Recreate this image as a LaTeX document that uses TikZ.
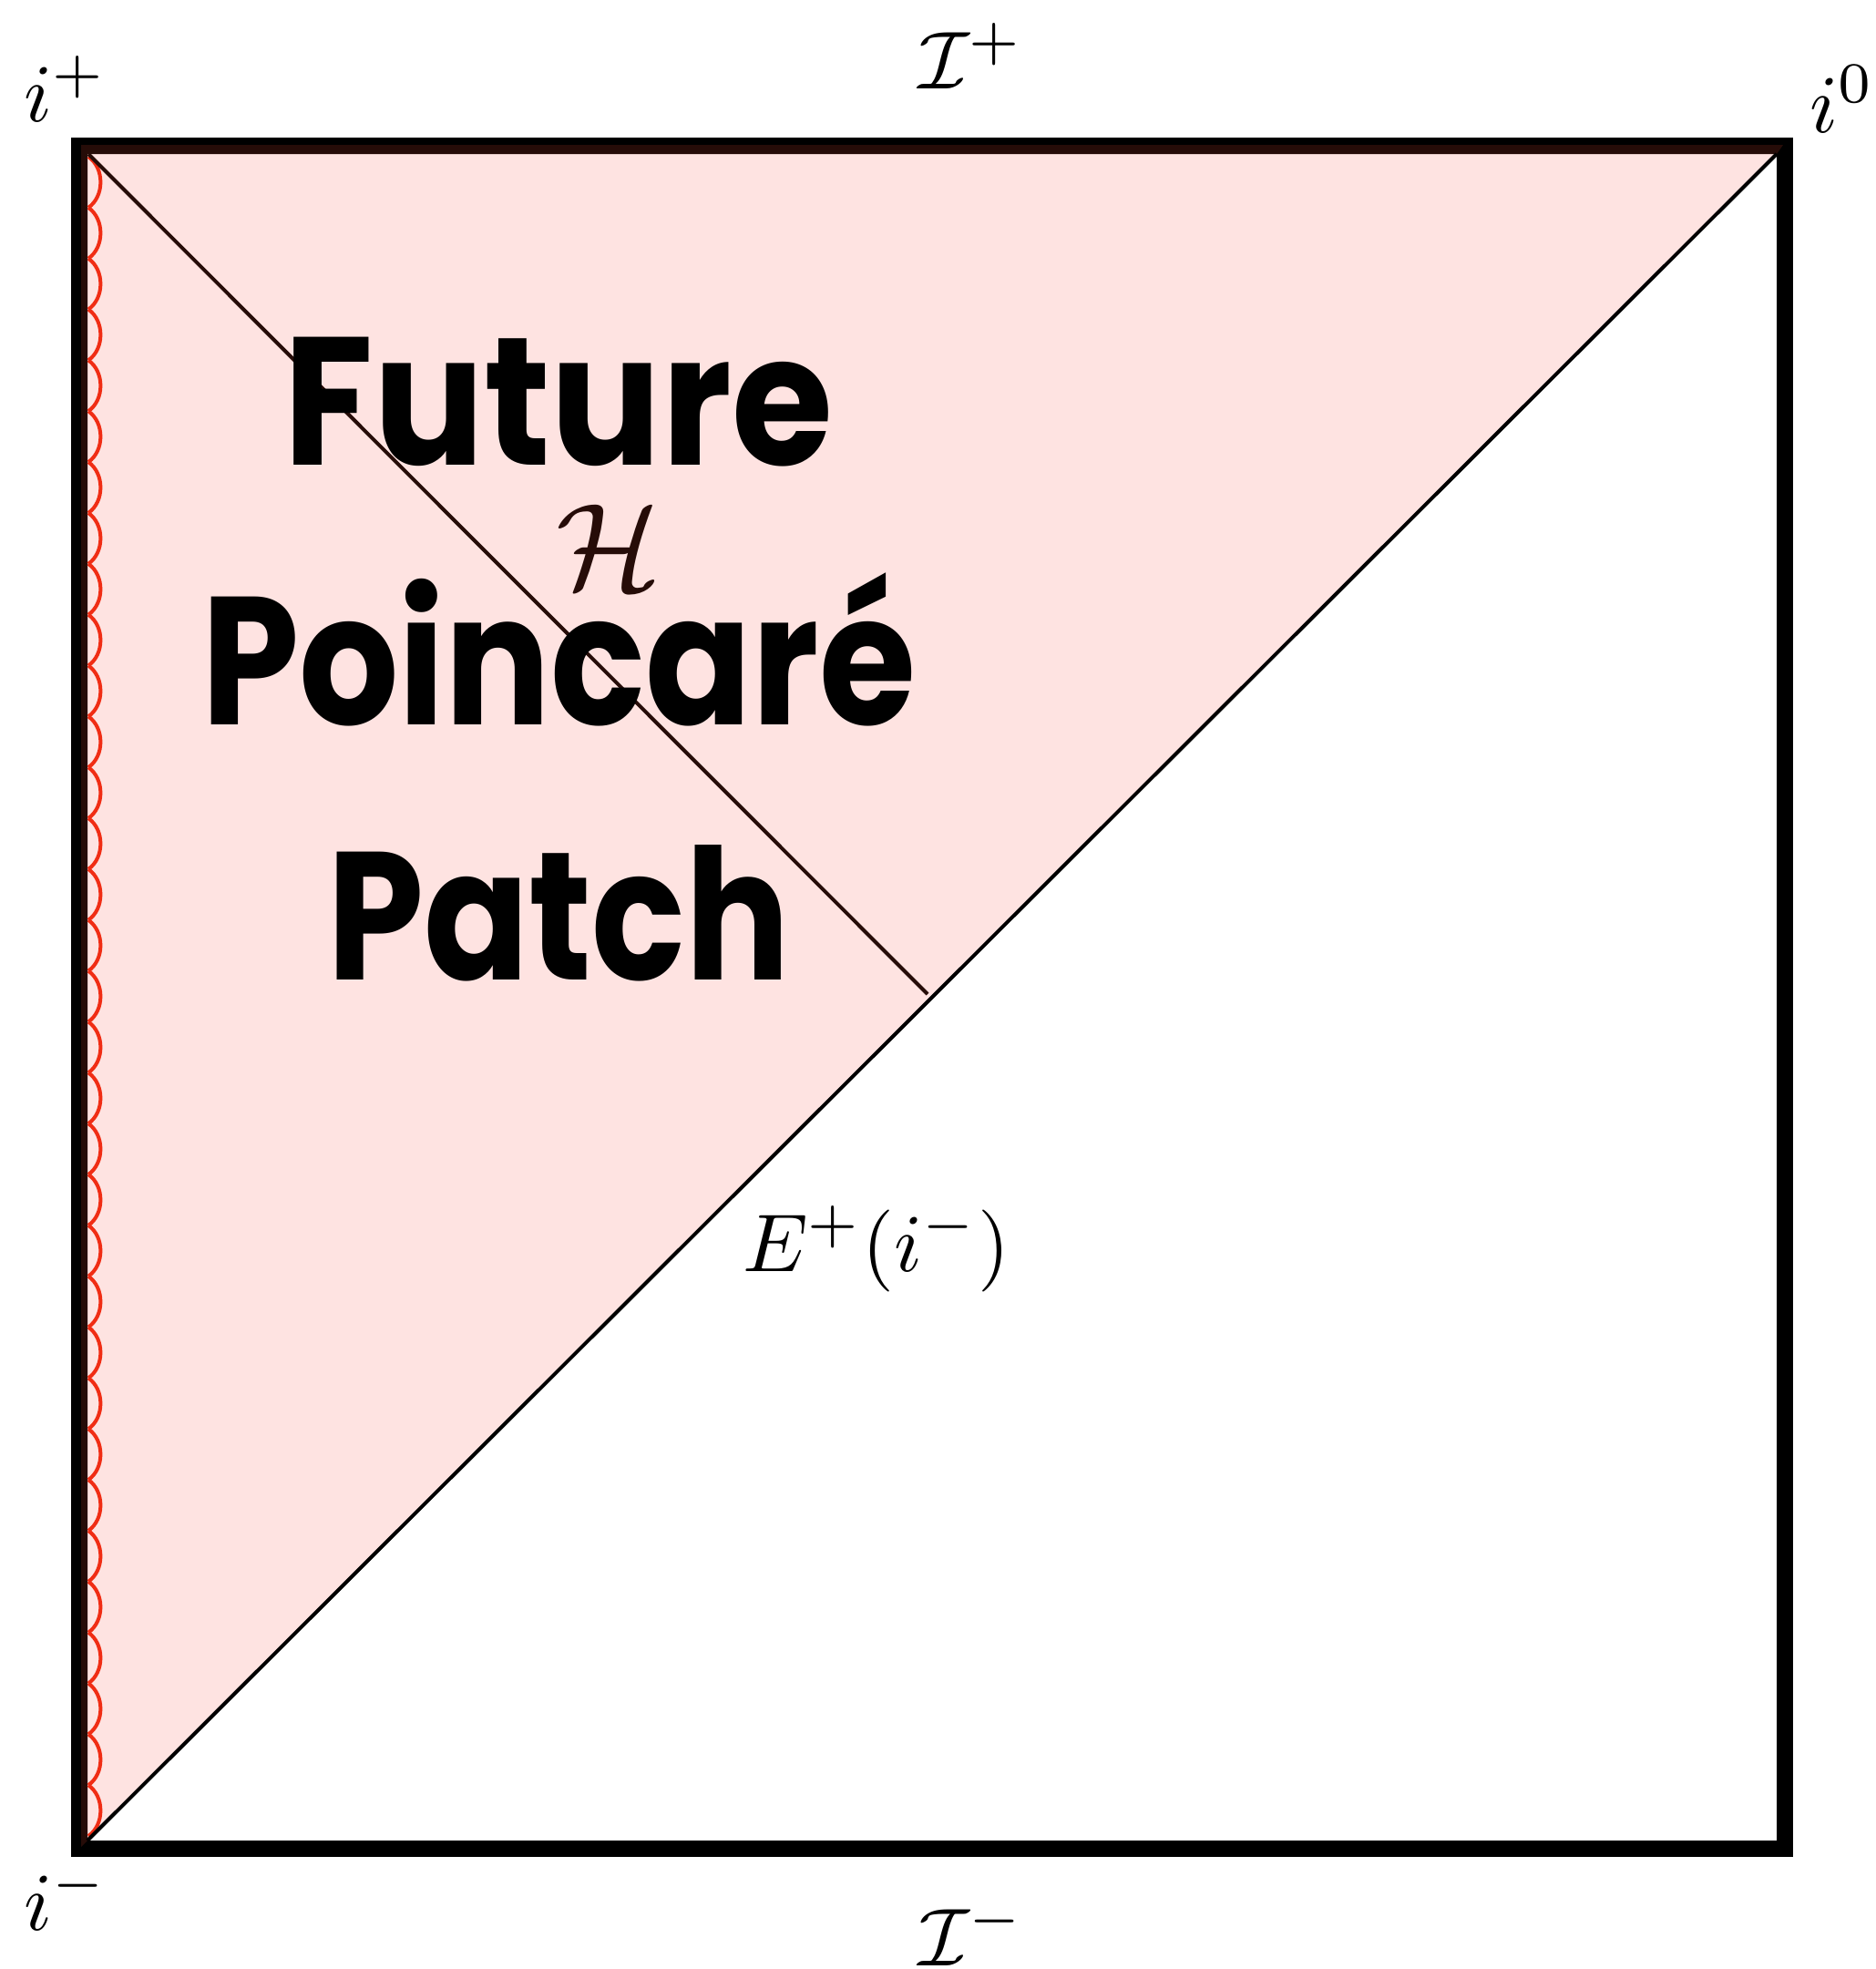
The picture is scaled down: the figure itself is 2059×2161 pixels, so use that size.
\documentclass[tikz,border=0pt]{standalone}
\usepackage{fontspec}
\usepackage{graphicx}
\newfontfamily\comicfont{Poppins}
\definecolor{patchpink}{RGB}{254,227,225}
\definecolor{hbrown}{RGB}{38,12,8}
\definecolor{wavered}{RGB}{240,45,20}
\newcommand{\bigmath}[1]{\scalebox{9}{$#1$}}
\tikzset{
  lbl/.style={inner sep=0pt},
  bigword/.style={inner sep=0pt, anchor=base, font=\comicfont\bfseries\fontsize{200}{220}\selectfont},
  nullline/.style={line width=4pt}
}
\begin{document}
\begin{tikzpicture}[x=1pt,y=-1pt]
\useasboundingbox (0,0) rectangle (2059,2161);
% corners
\coordinate (ip) at (96,169);
\coordinate (io) at (1950,169);
\coordinate (im) at (96,2020);
\coordinate (hend) at (1018,1091);
% pink patch
\fill[patchpink] (ip) -- (io) -- (im) -- cycle;
% frame
\draw[line width=18pt] (87,160) rectangle (1959,2029);
% brown border strip of the patch
\fill[hbrown] (89,159) -- (1957,159) -- (io) -- (ip) -- (im) -- (89,2027) -- cycle;
% red wavy boundary
\foreach \k in {0,...,32}{
  \draw[wavered, line width=4pt] (97,{172+\k*55.85}) to[bend left=55] (97,{172+(\k+1)*55.85});
}
% horizon and E+(i-)
\draw[hbrown, nullline] (97,169) -- (hend);
\draw[nullline] (im) -- (io);
% labels
\node[lbl, anchor=base west] (lip) at (26,133) {\bigmath{i^+}};
\node[lbl, anchor=base west] (lio) at (1986,145) {\bigmath{i^0}};
\node[lbl, anchor=base west] (lim) at (26,2118) {\bigmath{i^-}};
\node[lbl, anchor=base west] (lscp) at (1008,97) {\bigmath{\mathcal{I}^+}};
\node[lbl, anchor=base west] (lscm) at (1008,2157) {\bigmath{\mathcal{I}^-}};
\node[lbl, anchor=base west] (lE) at (815,1395) {\bigmath{E^+(i^-)}};
\node[inner sep=0pt, text=hbrown] (lH) at (668,600) {\scalebox{13.5}{$\mathcal{H}$}};
% words
\node[bigword] (w1) at (613,510) {\scalebox{0.9}[1]{Future}};
\node[bigword] (w2) at (613,795) {\scalebox{0.86}[1]{Poincaré}};
\node[bigword] (w3) at (613,1075) {\scalebox{0.85}[1]{Patch}};
\end{tikzpicture}
\end{document}
